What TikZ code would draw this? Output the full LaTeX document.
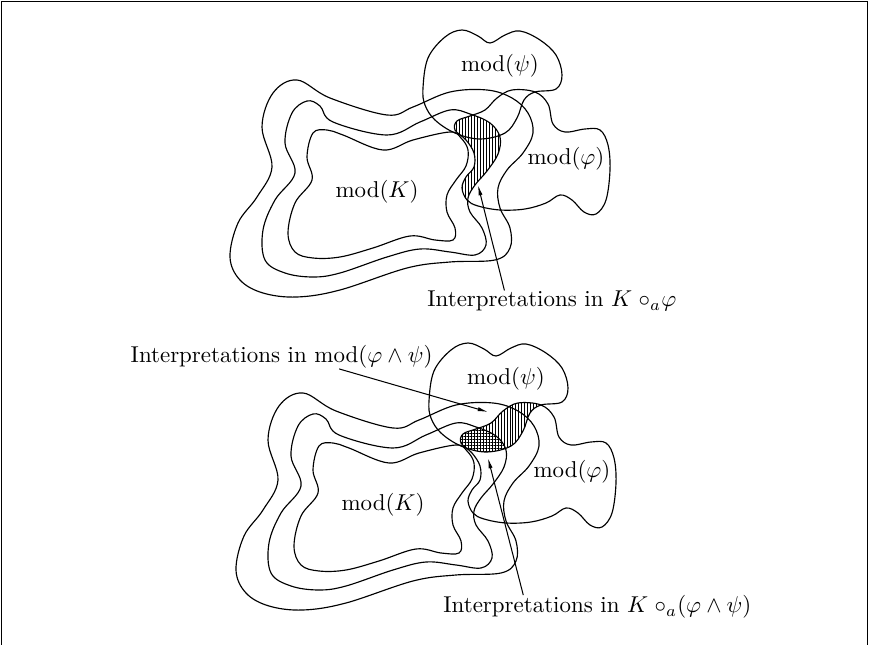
\documentclass[tikz,border=0pt]{standalone}
\usetikzlibrary{patterns.meta,arrows.meta,calc}
\newcommand\myKout{plot[smooth cycle,tension=0.6] coordinates{(297,80) (273,93) (262,127) (272,167) (257,197) (238,223) (230,257) (240,280) (263,293) (297,297) (340,290) (407,268) (450,262) (495,260) (510,248) (510,228) (500,208) (498,188) (507,170) (523,153) (533,133) (528,113) (512,98) (487,90) (450,92) (413,107) (387,115) (330,98)}}
\newcommand\myKmid{plot[smooth cycle,tension=0.6] coordinates{(307,101) (292,113) (285,143) (295,173) (275,200) (263,230) (265,260) (285,273) (313,277) (340,273) (387,257) (420,249) (450,252) (475,255) (486,245) (482,228) (470,212) (468,198) (475,185) (487,171) (498,154) (500,137) (490,123) (470,114) (450,110) (420,122) (387,135) (333,122) (320,106)}}
\newcommand\myKin{plot[smooth cycle,tension=0.6] coordinates{(327,130) (313,133) (307,157) (312,180) (295,203) (288,233) (295,252) (313,258) (340,257) (373,248) (410,236) (435,240) (453,240) (455,228) (447,212) (447,195) (456,180) (466,166) (468,150) (461,138) (450,132) (413,140) (383,150) (343,135)}}
\newcommand\myPhi{plot[smooth cycle,tension=0.6] coordinates{(600,130) (608,145) (610,170) (606,200) (596,214) (584,212) (572,200) (560,195) (546,203) (525,209) (500,210) (478,206) (467,200) (462,188) (466,177) (474,167) (474,153) (466,140) (455,130) (457,121) (470,116) (485,110) (497,98) (512,90) (535,92) (548,104) (553,124) (565,132) (585,129)}}
\newcommand\myPsi{plot[smooth cycle,tension=0.6] coordinates{(423,88) (428,58) (445,37) (462,30) (478,36) (490,43) (505,35) (520,31) (540,40) (556,55) (562,75) (556,89) (535,92) (524,100) (517,118) (505,133) (480,139) (455,133) (435,120) (425,105)}}
\begin{document}
\begin{tikzpicture}[x=0.436pt,y=-0.436pt,
  contour/.style={draw=black,line width=0.5pt},
  lbl/.style={inner sep=0pt,font=\fontsize{10}{12}\selectfont},
  arr/.style={line width=0.45pt,-{Latex[length=4.5pt,width=1.8pt]}},
  vhatch/.style={pattern={Lines[angle=90,distance=1.3pt,line width=0.3pt]}},
  xhatch/.style={pattern={Hatch[angle=0,distance=1.3pt,line width=0.3pt]}}]
\useasboundingbox (0,0) rectangle (870,645);
\draw[line width=0.6pt] (1.5,645) -- (1.5,1.5) -- (867.5,1.5) -- (867.5,645);
% top diagram
\begin{scope}
  \begin{scope}
    \clip \myPhi;
    \path[vhatch] \myKmid;
  \end{scope}
  \draw[contour] \myKout;
  \draw[contour] \myKmid;
  \draw[contour] \myKin;
  \draw[contour] \myPhi;
  \draw[contour] \myPsi;
  \node[lbl] (kT) at (377,192) {mod$(K)$};
  \node[lbl] (psiT) at (500,66) {mod$(\psi)$};
  \node[lbl] (phiT) at (566,159) {mod$(\varphi)$};
  \coordinate (tipT) at (478,185);
\end{scope}
% bottom diagram
\begin{scope}[shift={(6,313)}]
  \begin{scope}
    \clip \myPhi;
    \clip \myPsi;
    \path[vhatch] (400,0) rectangle (600,200);
    \path[xhatch] \myKmid;
  \end{scope}
  \draw[contour] \myKout;
  \draw[contour] \myKmid;
  \draw[contour] \myKin;
  \draw[contour] \myPhi;
  \draw[contour] \myPsi;
  \node[lbl] (kB) at (377,192) {mod$(K)$};
  \node[lbl] (psiB) at (500,66) {mod$(\psi)$};
  \node[lbl] (phiB) at (566,159) {mod$(\varphi)$};
\end{scope}
\coordinate (tipV) at (488,412);
\coordinate (tipX) at (488,458);
\node[lbl,anchor=west] (L1) at (427,301) {Interpretations in $K\;{\circ_a}\varphi$};
\node[lbl,anchor=east] (L2) at (433,357) {Interpretations in $\mathrm{mod}(\varphi\wedge\psi)$};
\node[lbl,anchor=west] (L3) at (443,607) {Interpretations in $K\;{\circ_a}(\varphi\wedge\psi)$};
\draw[arr] ($(L1.north west)!0.31!(L1.north east)$) -- (tipT);
\draw[arr] ($(L2.south west)!0.69!(L2.south east)$) -- (tipV);
\draw[arr] ($(L3.north west)!0.26!(L3.north east)$) -- (tipX);
\end{tikzpicture}
\end{document}
